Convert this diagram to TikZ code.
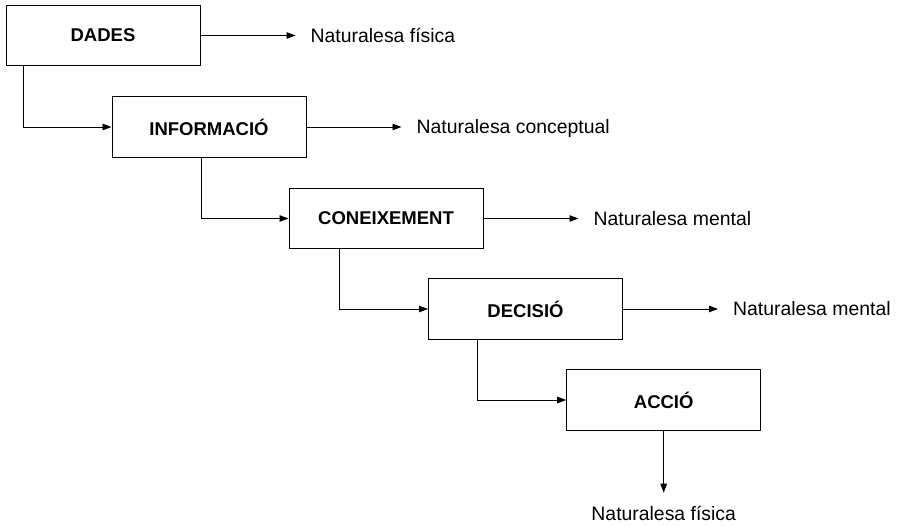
\documentclass[tikz,border=0pt]{standalone}
\usepackage{fontspec}
\setmainfont{Liberation Sans}
\usetikzlibrary{arrows.meta,positioning}

\begin{document}
\begin{tikzpicture}[x=1pt, y=-1pt,
        >={Triangle[length=9pt,width=6.5pt]},
        stage/.style={draw, line width=1pt, minimum width=194pt, minimum height=60.5pt,
            inner sep=0pt, font=\fontsize{18.5}{20}\selectfont\bfseries},
        nature/.style={inner sep=0pt, text height=13.9pt, text depth=0pt,
            font=\fontsize{19.4}{22}\selectfont},
        link/.style={->, line width=0.9pt}]
        \def\gap{110pt}                             % box edge to its label
        \def\tip{15pt}                              % arrow tip to label

        \useasboundingbox (0,0) rectangle (898,526);

        % The five stages, each one a step lower and to the right
        \node [stage] (dades)  at (103,35.5)   {DADES};
        \node [stage] (info)   at (209,127)    {INFORMACIÓ};
        \node [stage] (coneix) at (386,218.5)  {CONEIXEMENT};
        \node [stage] (decis)  at (525.5,309)  {DECISIÓ};
        \node [stage] (accio)  at (663.7,400)  {ACCIÓ};

        % Step from one stage to the next
        \draw [link] ([xshift=18pt]dades.south west)  |- (info.west);
        \draw [link] ([xshift=90pt]info.south west)   |- (coneix.west);
        \draw [link] ([xshift=51pt]coneix.south west) |- (decis.west);
        \draw [link] ([xshift=49pt]decis.south west)  |- (accio.west);

        % Nature of each stage
        \node [nature, right=\gap of dades]  (natDades)  {Naturalesa física};
        \node [nature, right=\gap of info]   (natInfo)   {Naturalesa conceptual};
        \node [nature, right=\gap of coneix] (natConeix) {Naturalesa mental};
        \node [nature, right=\gap of decis]  (natDecis)  {Naturalesa mental};
        \node [nature, below=76pt of accio]  (natAccio)  {Naturalesa física};

        \draw [link, shorten >=\tip] (dades.east)  -- (natDades.west);
        \draw [link, shorten >=\tip] (info.east)   -- (natInfo.west);
        \draw [link, shorten >=\tip] (coneix.east) -- (natConeix.west);
        \draw [link, shorten >=\tip] (decis.east)  -- (natDecis.west);
        \draw [link, shorten >=14pt] (accio.south) -- (natAccio.north);

    \end{tikzpicture}
\end{document}
